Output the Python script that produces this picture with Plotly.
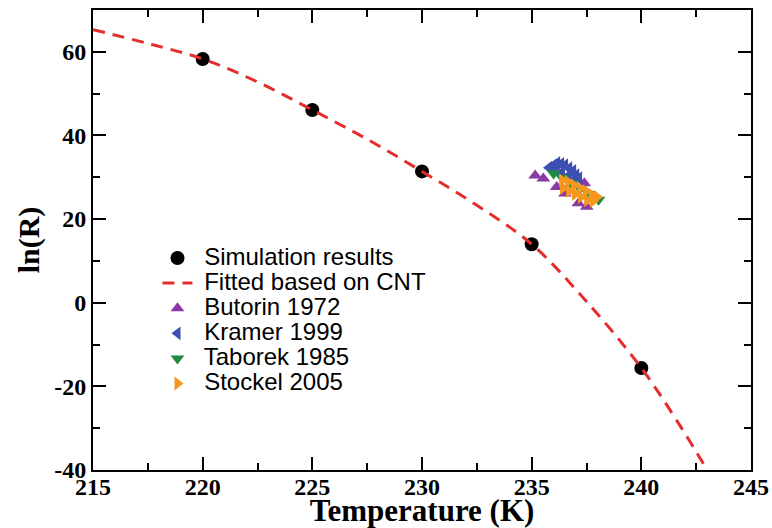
import plotly.graph_objects as go

# Simulated nucleation rates
sim_T = [220, 225, 230, 235, 240]
sim_lnR = [58.3, 46.1, 31.4, 14.0, -15.6]

# CNT fit curve (sampled)
fit_T = [215, 217.5, 220, 222.5, 225, 227.5, 230, 232.5, 235, 237.5, 240, 241.8, 243.0]
fit_lnR = [65.3, 62.0, 58.3, 52.8, 46.1, 39.1, 31.4, 23.3, 14.0, 0.3, -15.6, -29.7, -40.0]

# Experimental data
butorin_T = [235.16, 235.53, 236.14, 236.52, 237.13, 237.51, 237.40]
butorin_lnR = [30.4, 29.7, 27.7, 26.1, 23.8, 22.95, 28.6]

kramer_T = [235.79, 235.98, 236.16, 236.34, 236.52, 236.71, 236.89, 237.03, 237.16,
            236.11, 236.38, 236.66, 236.94]
kramer_lnR = [32.3, 32.8, 33.4, 33.2, 32.9, 32.2, 31.5, 30.5, 29.8,
              31.7, 31.2, 30.3, 29.6]

taborek_T = [236.0, 236.4, 236.8, 237.2, 237.6, 238.05]
taborek_lnR = [30.9, 29.8, 28.6, 27.3, 26.0, 24.6]

stockel_T = [236.39, 236.66, 236.93, 237.21, 237.48, 237.75, 237.98,
             236.43, 236.71, 236.98, 237.25, 237.53, 237.80]
stockel_lnR = [29.3, 28.9, 28.1, 27.4, 26.7, 25.7, 25.3,
               27.4, 26.7, 26.0, 25.3, 24.5, 24.3]

x_ticks = [215, 220, 225, 230, 235, 240, 245]
y_ticks = [-40, -20, 0, 20, 40, 60]


def label(txt):
    return '<span style="font-size:24px"> ' + txt + '</span>'


fig = go.Figure()
fig.add_trace(go.Scatter(x=sim_T, y=sim_lnR, mode="markers", name=label("Simulation results"),
                         marker=dict(symbol="circle", size=14, color="black")))
fig.add_trace(go.Scatter(x=fit_T, y=fit_lnR, mode="lines", name=label("Fitted based on CNT"),
                         line=dict(color="#e62d2d", width=3, dash="12px,8px", shape="spline")))
fig.add_trace(go.Scatter(x=butorin_T, y=butorin_lnR, mode="markers", name=label("Butorin 1972"),
                         marker=dict(symbol="triangle-up", size=12, color="#8a3aa8")))
fig.add_trace(go.Scatter(x=kramer_T, y=kramer_lnR, mode="markers", name=label("Kramer 1999"),
                         marker=dict(symbol="triangle-left", size=12, color="#3b50b0")))
fig.add_trace(go.Scatter(x=taborek_T, y=taborek_lnR, mode="markers", name=label("Taborek 1985"),
                         marker=dict(symbol="triangle-down", size=12, color="#1e8c3c")))
fig.add_trace(go.Scatter(x=stockel_T, y=stockel_lnR, mode="markers", name=label("Stockel 2005"),
                         marker=dict(symbol="triangle-right", size=12, color="#f5961e")))

axis_common = dict(
    showline=True, linewidth=2, linecolor="black", mirror="allticks",
    ticks="inside", ticklen=13, tickwidth=2, tickcolor="black",
    showgrid=False, zeroline=False, automargin=False,
    tickfont=dict(family="Liberation Serif", size=24, color="black"),
)

fig.update_xaxes(
    range=[215, 245], tickvals=x_ticks, ticktext=["<b>%d</b>" % v for v in x_ticks],
    ticklabelstandoff=-6,
    minor=dict(dtick=2.5, tick0=215, ticks="inside", ticklen=7, tickwidth=2, tickcolor="black"),
    title=dict(text="<b>Temperature (K)</b>", standoff=6,
               font=dict(family="Liberation Serif", size=31, color="black")),
    **axis_common,
)
fig.update_yaxes(
    range=[-40, 70], tickvals=y_ticks, ticktext=["<b>%d</b>" % v for v in y_ticks],
    minor=dict(dtick=10, tick0=-40, ticks="inside", ticklen=7, tickwidth=2, tickcolor="black"),
    title=dict(text="<b>ln(R)</b>", standoff=6,
               font=dict(family="Liberation Serif", size=30, color="black")),
    **axis_common,
)

fig.update_layout(
    width=772, height=528,
    margin=dict(l=93, r=21, t=10, b=58),
    plot_bgcolor="white", paper_bgcolor="white",
    legend=dict(x=0.098, y=0.499, xanchor="left", yanchor="top",
                bgcolor="rgba(0,0,0,0)", borderwidth=0,
                font=dict(family="Liberation Sans", size=17, color="black")),
)

fig.write_html("out.html")
